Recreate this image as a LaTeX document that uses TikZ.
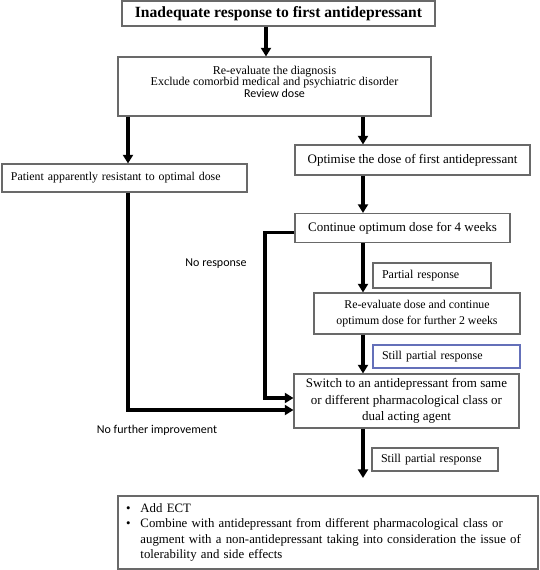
\documentclass[tikz,border=0pt]{standalone}
\usepackage{fontspec}
\setmainfont{Liberation Serif}
\setsansfont{Carlito}
\usetikzlibrary{arrows.meta}

\definecolor{boxgray}{RGB}{105,105,105}
\definecolor{boxblue}{RGB}{100,112,185}

\begin{document}
\begin{tikzpicture}[x=0.75pt, y=-0.75pt,
    box/.style={draw=boxgray, line width=0.8pt, rectangle, inner sep=0pt, align=center,
      font=\fontsize{9.75}{12.4}\selectfont},
    lbox/.style={box, align=left, inner xsep=6.75pt, font=\fontsize{9}{11}\selectfont},
    flow/.style={line width=2.5pt, -{Triangle[width=7.5pt, length=6.5pt]}},
    note/.style={font=\sffamily\fontsize{9}{11}\selectfont}]
  \useasboundingbox (0,0) rectangle (539,570);

  % Columns of the arrows
  \coordinate (lcol) at (128,0);
  \coordinate (mcol) at (266,0);
  \coordinate (rcol) at (363,0);
  \coordinate (loopx) at (265,300);
  \coordinate (gap) at (363,478);

  % Top of the chart
  \node[box, minimum width=234.75pt, minimum height=18.75pt,
    font=\bfseries\fontsize{11.7}{14}\selectfont] (top) at (278.5,13.5)
    {Inadequate response to first antidepressant};
  \node[box, minimum width=234.75pt, minimum height=44.25pt, text depth=7pt,
    font=\fontsize{9}{8.6}\selectfont] (rev) at (274.5,86.5)
    {Re-evaluate the diagnosis\\Exclude comorbid medical and psychiatric disorder\\
     {\sffamily Review dose}};

  % Left branch
  \node[lbox, text width=170.25pt, minimum height=21pt,
    font=\fontsize{8.9}{11}\selectfont] (pat) at (124.5,178) {Patient apparently resistant to optimal dose};

  % Right branch
  \node[box, minimum width=176.25pt, minimum height=22.5pt] (opt) at (412.5,160)
    {Optimise the dose of first antidepressant};
  \node[box, minimum width=161.25pt, minimum height=21.75pt] (cont) at (402.5,228)
    {Continue optimum dose for 4 weeks};
  \node[lbox, text width=75pt, minimum height=18.75pt] (part) at (432,275.5)
    {Partial response};
  \node[box, minimum width=154.5pt, minimum height=30.75pt,
    font=\fontsize{8.9}{12.4}\selectfont] (reeval) at (417,313.5)
    {Re-evaluate dose and continue\\optimum dose for further 2 weeks};
  \node[lbox, draw=boxblue, text width=96.75pt, minimum height=17.25pt] (still1) at (446.5,356.5)
    {Still partial response};
  \node[box, minimum width=168.75pt, minimum height=40.5pt] (switch) at (406.5,401)
    {Switch to an antidepressant from same\\or different pharmacological class or\\dual acting agent};
  \node[lbox, text width=81pt, minimum height=17.25pt] (still2) at (435,459.5)
    {Still partial response};

  % Last box
  \node[box, align=left, inner xsep=6pt, text width=303pt, minimum height=54.75pt,
    font=\fontsize{9.6}{11.5}\selectfont] (final) at (328,532.5)
    {\begin{tabular}{@{}l@{\hspace{7.5pt}}l@{}}
      \textbullet & Add ECT\\
      \textbullet & Combine with antidepressant from different pharmacological class or\\
                  & augment with a non-antidepressant taking into consideration the issue of\\
                  & tolerability and side effects
     \end{tabular}};

  % Labels
  \node[note] (nores) at (216,264) {No response};
  \node[note] (nofurther) at (157,430) {No further improvement};

  % Arrows
  \draw[flow] (top.south -| mcol) -- (rev.north -| mcol);
  \draw[flow] (rev.south -| lcol) -- (pat.north -| lcol);
  \draw[flow] (rev.south -| rcol) -- (opt.north -| rcol);
  \draw[flow] (opt.south -| rcol) -- (cont.north -| rcol);
  \draw[flow] (cont.south -| rcol) -- (reeval.north -| rcol);
  \draw[flow] (reeval.south -| rcol) -- (switch.north -| rcol);
  \draw[flow] ([yshift=-3.5pt]cont.west) -| (loopx) |- ([yshift=2.25pt]switch.west);
  \draw[flow] (pat.south -| lcol) |- ([yshift=-6.75pt]switch.west);
  \draw[flow] (switch.south -| rcol) -- (gap);
\end{tikzpicture}
\end{document}
